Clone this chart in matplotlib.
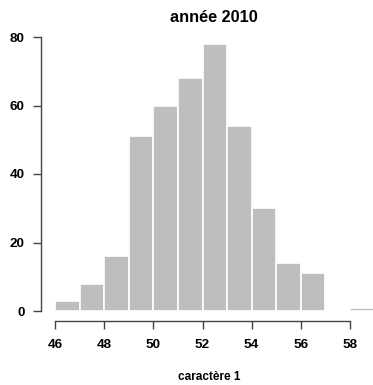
import matplotlib
matplotlib.use("Agg")
import matplotlib.pyplot as plt

# histogram of the variable, bins of width 1
bin_edges = [46, 47, 48, 49, 50, 51, 52, 53, 54, 55, 56, 57, 58, 59]
counts = [3, 8, 16, 51, 60, 68, 78, 54, 30, 14, 11, 0, 1]
x_ticks = [46, 48, 50, 52, 54, 56, 58]
y_ticks = [0, 20, 40, 60, 80]

plt.rcParams['font.family'] = ['Liberation Sans', 'DejaVu Sans']
plt.rcParams['font.weight'] = 'bold'

W, H = 373, 385
fig = plt.figure(figsize=(W / 100, H / 100), dpi=100)
# plot region in pixels: left 41, right 389, bottom 321, top 30
left, right, bottom, top = 41, 389, 321, 30
ax = fig.add_axes([left / W, 1 - bottom / H, (right - left) / W, (bottom - top) / H])

widths = [b - a for a, b in zip(bin_edges[:-1], bin_edges[1:])]
ax.bar(bin_edges[:-1], counts, width=widths, align='edge',
       color='#bebebe', edgecolor='white', linewidth=1.2)

px_x = (58 - 46) / (350 - 55)
ax.set_xlim(46 - (55 - left) * px_x, 46 + (right - 55) * px_x)
px_y = 80 / (311 - 37)
ax.set_ylim(-(bottom - 311) * px_y, 80 + (37 - top) * px_y)

for s in ['top', 'right']:
    ax.spines[s].set_visible(False)
ax.spines['left'].set_bounds(0, 80)
ax.spines['bottom'].set_bounds(46, 58)
for s in ['left', 'bottom']:
    ax.spines[s].set_color('#444444')
    ax.spines[s].set_linewidth(1.0)

ax.set_xticks(x_ticks)
ax.set_yticks(y_ticks)
ax.tick_params(axis='both', direction='out', length=6, width=1.0,
               color='#444444', labelsize=9.7)
ax.tick_params(axis='x', pad=7)
ax.tick_params(axis='y', pad=5.8)
for lab in ax.get_xticklabels() + ax.get_yticklabels():
    lab.set_fontweight('bold')

fig.text(214 / W, 1 - 17 / H, 'année 2010',
         ha='center', va='center', fontsize=11.7, fontweight='bold')
fig.text(209 / W, 1 - 377 / H, 'caractère 1',
         ha='center', va='center', fontsize=8.5, fontweight='bold')

fig.savefig('out.png', dpi=100)
